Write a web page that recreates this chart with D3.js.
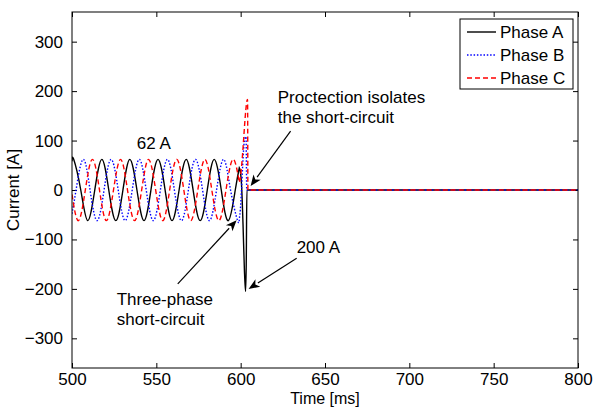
<!DOCTYPE html>
<html>
<head>
<meta charset="utf-8">
<script src="https://cdn.jsdelivr.net/npm/d3@7"></script>
<style>
  body { margin: 0; background: #fff; }
  text { font-family: "Liberation Sans", Arial, sans-serif; font-size: 17px; fill: #000; }
</style>
</head>
<body>
<svg id="chart" width="595" height="407"></svg>
<script>
// axis ticks
var xTicks = [500, 550, 600, 650, 700, 750, 800];
var yTicks = [-300, -200, -100, 0, 100, 200, 300];
var seriesNames = ['Phase A', 'Phase B', 'Phase C'];

// steady state before the fault, [time ms, current A] (peaks and zero crossings)
var steadyA = [[500, 58], [501, 62], [505.2, 0], [509.3, -62], [513.5, 0], [517.7, 62], [521.8, 0], [526, -62],
  [530.2, 0], [534.3, 62], [538.5, 0], [542.7, -62], [546.8, 0], [551, 62], [555.2, 0], [559.3, -62],
  [563.5, 0], [567.7, 62], [571.8, 0], [576, -62], [580.2, 0], [584.3, 62], [588.5, 0], [592.7, -62],
  [596.8, 0], [599.2, 45]];
var steadyB = [[500, -48], [502.4, 0], [506.6, 62], [510.7, 0], [514.9, -62], [519, 0], [523.2, 62], [527.4, 0],
  [531.5, -62], [535.7, 0], [539.9, 62], [544, 0], [548.2, -62], [552.4, 0], [556.6, 62], [560.7, 0],
  [564.9, -62], [569, 0], [573.2, 62], [577.4, 0], [581.5, -62], [585.7, 0], [589.9, 62], [594, 0],
  [598.2, -62], [599.2, -58]];
var steadyC = [[500, -9], [503.8, -62], [507.9, 0], [512.1, 62], [516.3, 0], [520.4, -62], [524.6, 0], [528.8, 62],
  [532.9, 0], [537.1, -62], [541.3, 0], [545.4, 62], [549.6, 0], [553.8, -62], [557.9, 0], [562.1, 62],
  [566.3, 0], [570.4, -62], [574.6, 0], [578.8, 62], [582.9, 0], [587.1, -62], [591.3, 0], [595.4, 62],
  [599.2, 15]];

// fault transient and after isolation
var faultA = [[599.2, 45], [599.8, 38], [600.6, 5], [601.4, -70], [602.2, -160], [602.9, -205], [603.3, -150],
  [603.7, 0], [800, 0]];
var faultB = [[599.2, -58], [599.8, -40], [600.5, 0], [601.2, 50], [601.9, 90], [602.6, 105], [603.2, 108],
  [603.6, 0], [800, 0]];
var faultC = [[599.2, 15], [599.8, 25], [600.6, 50], [601.4, 85], [602.2, 125], [603, 160], [603.7, 180],
  [604.1, 183], [604.3, 0], [800, 0]];

// annotations, in data units
var notes = [
  { lines: ['Proctection isolates', 'the short-circuit'], t: 622, v: 176 },
  { lines: ['Three-phase', 'short-circuit'], t: 526.5, v: -233 },
  { lines: ['62 A'], t: 538.4, v: 83 },
  { lines: ['200 A'], t: 633.2, v: -127 }
];
var arrows = [
  { from: [629.6, 119], to: [605.9, 8] },
  { from: [562.7, -190], to: [597.6, -61] },
  { from: [633.2, -138], to: [604.7, -200] }
];

var margin = { left: 72, right: 17, top: 12, bottom: 39 };
var width = 595 - margin.left - margin.right;
var height = 407 - margin.top - margin.bottom;

var svg = d3.select('#chart');
var g = svg.append('g').attr('transform', 'translate(' + margin.left + ',' + margin.top + ')');

var x = d3.scaleLinear().domain([500, 800]).range([0, width]);
var y = d3.scaleLinear().domain([-360, 360]).range([height, 0]);

svg.append('defs').append('clipPath').attr('id', 'clip')
  .append('rect').attr('width', width).attr('height', height);

var tickLen = 5;
g.append('g').attr('transform', 'translate(0,' + height + ')')
  .call(d3.axisBottom(x).tickValues(xTicks).tickSizeInner(-tickLen).tickSizeOuter(0).tickPadding(5));
g.append('g')
  .call(d3.axisLeft(y).tickValues(yTicks).tickSizeInner(-tickLen).tickSizeOuter(0).tickPadding(9));
g.append('g')
  .call(d3.axisTop(x).tickValues(xTicks).tickSizeInner(-tickLen).tickSizeOuter(0).tickFormat(''));
g.append('g').attr('transform', 'translate(' + width + ',0)')
  .call(d3.axisRight(y).tickValues(yTicks).tickSizeInner(-tickLen).tickSizeOuter(0).tickFormat(''));
g.selectAll('.domain').remove();
g.selectAll('.tick line').attr('stroke', '#000');
g.selectAll('.tick text').style('font-size', '17px').attr('fill', '#000');

var lineNat = d3.line().x(function(d) { return x(d[0]); }).y(function(d) { return y(d[1]); }).curve(d3.curveNatural);
var lineMono = d3.line().x(function(d) { return x(d[0]); }).y(function(d) { return y(d[1]); }).curve(d3.curveMonotoneX);

var styles = [
  { color: '#000000', dash: null },
  { color: '#0000ff', dash: '1.5,1.8' },
  { color: '#ff0000', dash: '5,3' }
];
var steady = [steadyA, steadyB, steadyC];
var fault = [faultA, faultB, faultC];

var plot = g.append('g').attr('clip-path', 'url(#clip)');
seriesNames.forEach(function(name, i) {
  var d = lineNat(steady[i]) + lineMono(fault[i]).replace(/^M/, 'L');
  plot.append('path').attr('d', d).attr('fill', 'none')
    .attr('stroke', styles[i].color).attr('stroke-width', 1.4)
    .attr('stroke-dasharray', styles[i].dash);
});

// box
g.append('rect').attr('width', width).attr('height', height)
  .attr('fill', 'none').attr('stroke', '#000').attr('stroke-width', 1);

// axis labels
g.append('text').attr('x', width / 2).attr('y', height + 35.5).attr('text-anchor', 'middle')
  .style('font-size', '16px').text('Time [ms]');
g.append('text').attr('transform', 'translate(' + (-53) + ',' + (height / 2) + ') rotate(-90)')
  .attr('text-anchor', 'middle').text('Current [A]');

// annotations
notes.forEach(function(n) {
  var t = g.append('text').attr('x', x(n.t)).attr('y', y(n.v));
  n.lines.forEach(function(s, k) {
    t.append('tspan').attr('x', x(n.t)).attr('dy', k === 0 ? 0 : 20).text(s);
  });
});

arrows.forEach(function(a) {
  var x0 = x(a.from[0]), y0 = y(a.from[1]), x1 = x(a.to[0]), y1 = y(a.to[1]);
  var ang = Math.atan2(y1 - y0, x1 - x0);
  var hl = 11, hw = 4.5;
  var bx = x1 - hl * Math.cos(ang), by = y1 - hl * Math.sin(ang);
  g.append('line').attr('x1', x0).attr('y1', y0).attr('x2', bx).attr('y2', by)
    .attr('stroke', '#000').attr('stroke-width', 1.2);
  var px = -Math.sin(ang) * hw, py = Math.cos(ang) * hw;
  var nx = x1 - (hl - 3) * Math.cos(ang), ny = y1 - (hl - 3) * Math.sin(ang);
  g.append('path')
    .attr('d', 'M' + x1 + ',' + y1 + 'L' + (bx + px) + ',' + (by + py) + 'L' + nx + ',' + ny + 'L' + (bx - px) + ',' + (by - py) + 'Z')
    .attr('fill', '#000');
});

// legend
var leg = g.append('g').attr('transform', 'translate(' + (width - 118) + ',7)');
leg.append('rect').attr('width', 113).attr('height', 70).attr('fill', '#fff').attr('stroke', '#000');
seriesNames.forEach(function(name, i) {
  var ly = 13 + i * 23;
  leg.append('line').attr('x1', 7).attr('x2', 36).attr('y1', ly).attr('y2', ly)
    .attr('stroke', styles[i].color).attr('stroke-width', 1.4).attr('stroke-dasharray', styles[i].dash);
  leg.append('text').attr('x', 40).attr('y', ly + 6).text(name);
});
</script>
</body>
</html>
